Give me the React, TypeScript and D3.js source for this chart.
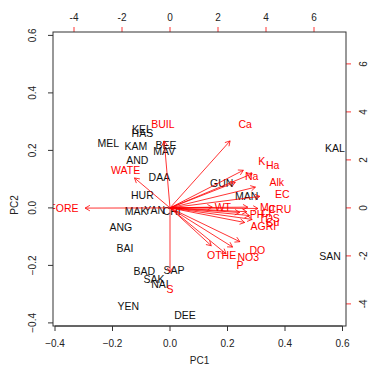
import React from "react";
import * as d3 from "d3";

const siteNames = ["KEL","HAS","MEL","KAM","BEE","MAV","AND","DAA","GUN","MAN","HUR","MAK","YAN","CHI","ANG","BAI","KAL","SAN","BAD","SAP","SAK","NAI","YEN","DEE"];
const pc1 = [-0.098,-0.096,-0.215,-0.119,-0.014,-0.020,-0.114,-0.037,0.180,0.267,-0.096,-0.118,-0.053,0.006,-0.171,-0.157,0.574,0.557,-0.089,0.014,-0.056,-0.035,-0.145,0.052];
const pc2 = [0.276,0.261,0.227,0.216,0.219,0.198,0.166,0.108,0.087,0.043,0.044,-0.010,-0.006,-0.010,-0.068,-0.139,0.208,-0.168,-0.219,-0.217,-0.247,-0.263,-0.342,-0.373];

const varNames = ["BUIL","Ca","WATE","K","Ha","Na","Alk","EC","FORE","WT","Mg","CRU","PH","Cl","TDS","AGRI","Cu","DO","NO3","OTHE","P","S"];
const load1 = [-0.30,3.13,-1.85,3.82,4.28,3.40,4.45,4.68,-4.42,2.20,4.05,4.58,3.63,4.00,4.14,3.89,4.28,3.64,3.26,2.15,2.92,0.00];
const load2 = [3.49,3.49,1.56,1.96,1.78,1.33,1.08,0.60,-0.01,0.04,0.04,-0.03,-0.24,-0.20,-0.40,-0.76,-0.60,-1.76,-2.04,-1.97,-2.39,-3.36];

const pcTicks = [-0.4,-0.2,0.0,0.2,0.4,0.6];
const loadTicks = [-4,-2,0,2,4,6];

const L = 53, R = 346, T = 32, B = 326;
const RED = "#ff0000";
const FONT = "Liberation Sans, Arial, Helvetica, sans-serif";
const FS = 10.5;

export default function App() {
  const x = d3.scaleLinear().domain([-(170 - L) / 287.5, (R - 170) / 287.5]).range([L, R]);
  const y = d3.scaleLinear().domain([-(B - 207.9) / 287.5, (207.9 - T) / 287.5]).range([B, T]);
  const xl = d3.scaleLinear().domain([-(170 - L) / 24, (R - 170) / 24]).range([L, R]);
  const yl = d3.scaleLinear().domain([-(B - 207.9) / 24, (207.9 - T) / 24]).range([B, T]);
  const fmt = d3.format(".1f");
  const ah = 5.5;
  const ang = Math.PI / 6;

  return (
    <svg width={378} height={377} style={{ position: "absolute", left: 0, top: 0, background: "#fff" }} fontFamily={FONT}>
      <defs>
        <clipPath id="plotclip">
          <rect x={L} y={T} width={R - L} height={B - T} />
        </clipPath>
      </defs>
      <rect x={0} y={0} width={378} height={377} fill="#fff" />
      <g clipPath="url(#plotclip)">
        {pc1.map((v, i) => (
          <text key={"s" + i} x={x(v)} y={y(pc2[i])} fontSize={FS} textAnchor="middle" dominantBaseline="central" fill="#111">
            {siteNames[i]}
          </text>
        ))}
        {load1.map((v, i) => {
          const x0 = xl(0), y0 = yl(0);
          const x1 = xl(v * 0.8), y1 = yl(load2[i] * 0.8);
          const a = Math.atan2(y1 - y0, x1 - x0);
          const p1 = [x1 - ah * Math.cos(a - ang), y1 - ah * Math.sin(a - ang)];
          const p2 = [x1 - ah * Math.cos(a + ang), y1 - ah * Math.sin(a + ang)];
          return (
            <g key={"a" + i} stroke={RED} strokeWidth={0.8} fill="none">
              <line x1={x0} y1={y0} x2={x1} y2={y1} />
              <polyline points={`${p1[0]},${p1[1]} ${x1},${y1} ${p2[0]},${p2[1]}`} />
            </g>
          );
        })}
        {load1.map((v, i) => (
          <text key={"v" + i} x={xl(v)} y={yl(load2[i])} fontSize={FS} textAnchor="middle" dominantBaseline="central" fill={RED}>
            {varNames[i]}
          </text>
        ))}
      </g>
      {/* bottom axis */}
      <g>
        <line x1={x(pcTicks[0])} x2={x(pcTicks[pcTicks.length - 1])} y1={B} y2={B} stroke="#333" />
        {pcTicks.map((t) => (
          <g key={"bx" + t}>
            <line x1={x(t)} x2={x(t)} y1={B} y2={B + 5} stroke="#333" />
            <text x={x(t)} y={B + 21} fontSize={10} textAnchor="middle" fill="#222">{fmt(t)}</text>
          </g>
        ))}
        <text x={(L + R) / 2} y={364} fontSize={10} textAnchor="middle" fill="#222">PC1</text>
      </g>
      {/* left axis */}
      <g>
        {pcTicks.map((t) => (
          <g key={"ly" + t}>
            <line x1={L} x2={L - 5} y1={y(t)} y2={y(t)} stroke="#333" />
            <text transform={`translate(${L - 17},${y(t)}) rotate(-90)`} fontSize={10} textAnchor="middle" fill="#222">{fmt(t)}</text>
          </g>
        ))}
        <text transform={`translate(18,205) rotate(-90)`} fontSize={10} textAnchor="middle" fill="#222">PC2</text>
      </g>
      {/* top axis */}
      <g>
        {loadTicks.map((t) => (
          <g key={"tx" + t}>
            <line x1={xl(t)} x2={xl(t)} y1={T} y2={T - 5} stroke={RED} strokeWidth={0.8} />
            <text x={xl(t)} y={T - 11} fontSize={10} textAnchor="middle" fill="#222">{t}</text>
          </g>
        ))}
      </g>
      {/* right axis */}
      <g>
        {loadTicks.map((t) => (
          <g key={"ry" + t}>
            <line x1={R} x2={R + 5} y1={yl(t)} y2={yl(t)} stroke={RED} strokeWidth={0.8} />
            <text transform={`translate(${R + 17},${yl(t)}) rotate(-90)`} fontSize={10} textAnchor="middle" dominantBaseline="central" fill="#222">{t}</text>
          </g>
        ))}
      </g>
      <rect x={L} y={T} width={R - L} height={B - T} fill="none" stroke="#333" strokeWidth={1} />
    </svg>
  );
}
